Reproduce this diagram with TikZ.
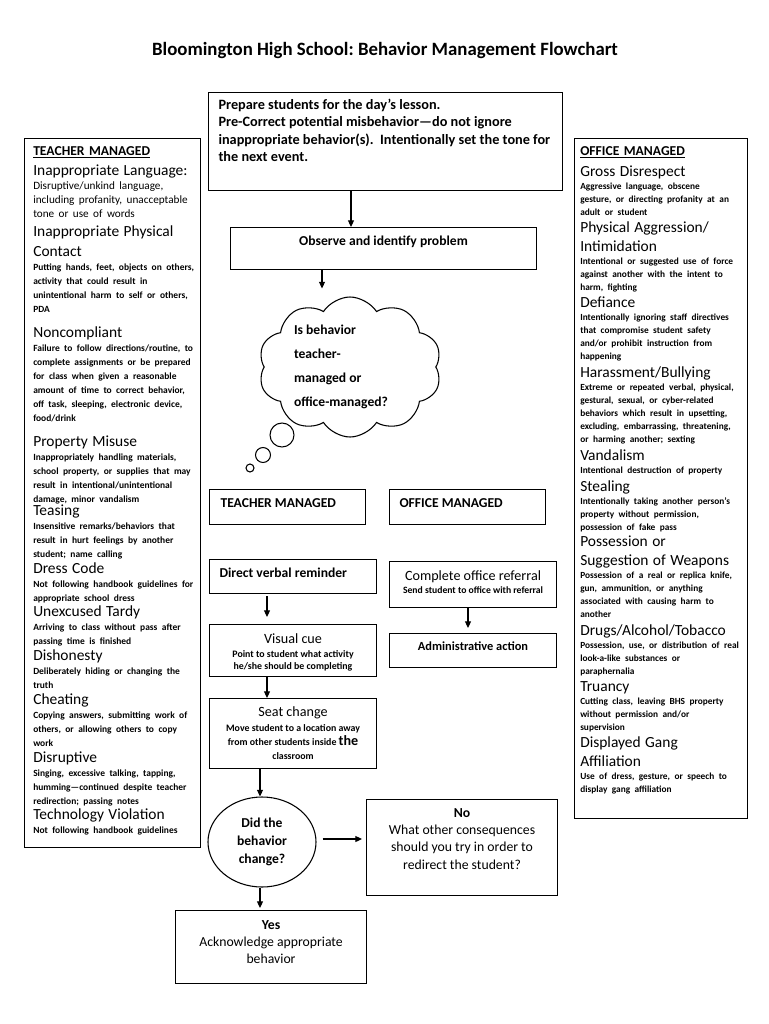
\documentclass[tikz,border=0pt]{standalone}
\usepackage{fontspec}
\setmainfont{Carlito}
\usetikzlibrary{shapes.geometric,shapes.symbols,arrows.meta}
\frenchspacing
\newlength{\pxunit}
\setlength{\pxunit}{0.75pt}
\newcommand{\listtitle}[1]{{\fontsize{10.2}{12}\selectfont\bfseries\raggedright\underline{#1}\par}}
\newcommand{\listhead}[1]{{\fontsize{11.6}{11.8}\selectfont\raggedright #1\par}}
\newcommand{\listdesc}[1]{{\fontsize{7.1}{10.5}\selectfont\bfseries\raggedright #1\par}}
\newcommand{\rlisthead}[1]{{\fontsize{11.6}{12.7}\selectfont\raggedright #1\par}}
\newcommand{\rlistdesc}[1]{{\fontsize{7.0}{9.75}\selectfont\bfseries\raggedright #1\par}}

\begin{document}
\begin{tikzpicture}[x=\pxunit,y=-\pxunit,
  box/.style={draw,line width=0.8pt,inner ysep=0pt,anchor=north west},
  arr/.style={line width=0.8pt,-{Triangle[length=5pt,width=4.5pt]}},
  flowbold/.style={font=\fontsize{10.2}{13}\selectfont\bfseries},
  flowplain/.style={font=\fontsize{10.3}{13}\selectfont},
  bubble/.style={draw,circle,line width=0.8pt,inner sep=0pt},
  panel/.style={draw,line width=0.8pt,anchor=north west,inner sep=0pt},
  listnode/.style={anchor=base west,text width=190\pxunit,align=left,inner sep=0pt}]
\fill[white] (0,0) rectangle (768,1024);
\useasboundingbox (0,0) rectangle (768,1024);

\node[font=\fontsize{14.1}{16}\selectfont\bfseries] (title) at (385,50) {Bloomington High School: Behavior Management Flowchart};

\node[box,font=\fontsize{10.7}{13.2}\selectfont\bfseries,inner xsep=0pt] (prep) at (208,92) {\parbox[c][98\pxunit][t]{354\pxunit}{\raggedright\leftskip=10\pxunit\rule{0pt}{16.5\pxunit}Prepare students for the day’s lesson.\\ Pre-Correct potential misbehavior—do not ignore\\ inappropriate behavior(s).\ \ Intentionally set the tone for\\ the next event.}};
\node[box,flowbold,inner xsep=0pt] (obs) at (230,227) {\parbox[c][42\pxunit][t]{306\pxunit}{\centering\rule{0pt}{17.5\pxunit}Observe and identify problem}};
\node[cloud,draw,line width=0.8pt,cloud puffs=10,cloud puff arc=115,cloud ignores aspect,minimum width=183\pxunit,minimum height=140\pxunit,inner sep=0pt,font=\fontsize{10.2}{18}\selectfont\bfseries] (cloud) at (350,367) {\parbox{112\pxunit}{\raggedright Is behavior\\ teacher-\\ managed or\\ office-managed?}};
\node[bubble,minimum size=24\pxunit] (bubble1) at (282,435) {};
\node[bubble,minimum size=15\pxunit] (bubble2) at (263,455) {};
\node[bubble,minimum size=8\pxunit] (bubble3) at (250,468) {};

\node[box,flowbold,inner xsep=11\pxunit] (tmbox) at (209,489) {\parbox[c][35\pxunit][t]{134\pxunit}{\rule{0pt}{17.5\pxunit}TEACHER MANAGED}};
\node[box,flowbold,inner xsep=10\pxunit] (ombox) at (389,489) {\parbox[c][35\pxunit][t]{136\pxunit}{\rule{0pt}{17.5\pxunit}OFFICE MANAGED}};

\node[box,flowbold,inner xsep=10\pxunit] (verbal) at (209,559) {\parbox[c][34\pxunit][t]{147\pxunit}{\rule{0pt}{17.5\pxunit}Direct verbal reminder}};
\node[box,inner xsep=0pt] (visual) at (209,624) {\parbox[c][52\pxunit][t]{167\pxunit}{\centering{\fontsize{10.6}{13}\selectfont\rule{0pt}{18.5\pxunit}Visual cue\par}\vspace{1.9pt}{\fontsize{7.4}{9}\selectfont\bfseries Point to student what activity\\ he/she should be completing\par}}};
\node[box,inner xsep=0pt] (seat) at (209,698) {\parbox[c][70\pxunit][t]{167\pxunit}{\centering{\fontsize{10.6}{13}\selectfont\rule{0pt}{17.5\pxunit}Seat change\par}\vspace{1.1pt}{\fontsize{7.4}{10.5}\selectfont\bfseries Move student to a location away\\ from other students inside {\fontsize{10.6}{10.5}\selectfont the}\\ classroom\par}}};

\node[box,inner xsep=0pt] (referral) at (389,561) {\parbox[c][46\pxunit][t]{167\pxunit}{\centering{\fontsize{10.6}{13}\selectfont\rule{0pt}{18.5\pxunit}Complete office referral\par}{\fontsize{7.25}{10.1}\selectfont\bfseries Send student to office with referral\par}}};
\node[box,inner xsep=0pt,font=\fontsize{9.3}{12}\selectfont\bfseries] (admin) at (389,633) {\parbox[c][34\pxunit][t]{167\pxunit}{\centering\rule{0pt}{17\pxunit}Administrative action}};

\node[ellipse,draw,line width=0.8pt,minimum width=108\pxunit,minimum height=90\pxunit,inner sep=0pt,align=center,font=\fontsize{10.2}{13.5}\selectfont\bfseries] (change) at (262,842) {Did the\\ behavior\\ change?};
\node[box,flowplain,inner xsep=0pt] (nobox) at (366,799) {\parbox[c][96\pxunit][t]{191\pxunit}{\centering\rule{0pt}{17.5\pxunit}\textbf{No}\\ What other consequences\\ should you try in order to\\ redirect the student?}};
\node[box,flowplain,inner xsep=0pt] (yesbox) at (175,910) {\parbox[c][73\pxunit][t]{191\pxunit}{\centering\rule{0pt}{18.5\pxunit}\textbf{Yes}\\ Acknowledge appropriate\\ behavior}};

\draw[arr] (351,0 |- prep.south) -- (351,0 |- obs.north);
\draw[arr,shorten >=8\pxunit] (322,0 |- obs.south) -- (322,0 |- cloud.north);
\draw[arr,shorten <=2\pxunit,shorten >=7\pxunit] (267,0 |- verbal.south) -- (267,0 |- visual.north);
\draw[arr] (267,0 |- visual.south) -- (267,0 |- seat.north);
\draw[arr,shorten >=5\pxunit] (468,0 |- referral.south) -- (468,0 |- admin.north);
\draw[arr] (260,0 |- seat.south) -- (260,0 |- change.north);
\coordinate (nostart) at ([xshift=6\pxunit,yshift=3\pxunit]change.east);
\draw[arr] (nostart) -- ([xshift=-4\pxunit]nostart -| nobox.west);
\draw[arr,shorten >=2\pxunit] (260,0 |- change.south) -- (260,0 |- yesbox.north);

\node[panel,minimum width=176\pxunit,minimum height=709\pxunit] (tpanel) at (24,138) {};
\node[panel,minimum width=173\pxunit,minimum height=680\pxunit] (opanel) at (574,138) {};

\node[listnode] (tlist) at (33,155.5) {%
\listtitle{TEACHER MANAGED}\vspace{3.3pt}
\listhead{Inappropriate Language:}
{\fontsize{8.4}{10.5}\selectfont\raggedright Disruptive/unkind language,\\ including profanity, unacceptable\\ tone or use of words\par}\vspace{2.2pt}
\listhead{Inappropriate Physical\\[3.2pt]Contact}
\listdesc{Putting hands, feet, objects on others,\\ activity that could result in\\ unintentional harm to self or others,\\ PDA}\vspace{7pt}
\listhead{Noncompliant}
\listdesc{Failure to follow directions/routine, to\\ complete assignments or be prepared\\ for class when given a reasonable\\ amount of time to correct behavior,\\ off task, sleeping, electronic device,\\ food/drink}\vspace{7pt}
\listhead{Property Misuse}
\listdesc{Inappropriately handling materials,\\ school property, or supplies that may\\ result in intentional/unintentional\\ damage, minor vandalism}\vspace{-2pt}
\listhead{Teasing}
\listdesc{Insensitive remarks/behaviors that\\ result in hurt feelings by another\\ student; name calling}
\listhead{Dress Code}
\listdesc{Not following handbook guidelines for\\ appropriate school dress}
\listhead{Unexcused Tardy}
\listdesc{Arriving to class without pass after\\ passing time is finished}
\listhead{Dishonesty}
\listdesc{Deliberately hiding or changing the\\ truth}
\listhead{Cheating}
\listdesc{Copying answers, submitting work of\\ others, or allowing others to copy\\ work}
\listhead{Disruptive}
\listdesc{Singing, excessive talking, tapping,\\ humming—continued despite teacher\\ redirection; passing notes}
\listhead{Technology Violation}
\listdesc{Not following handbook guidelines}};

\node[listnode] (olist) at (580,155.5) {%
\listtitle{OFFICE MANAGED}\vspace{3pt}
\rlisthead{Gross Disrespect}
\rlistdesc{Aggressive language, obscene\\ gesture, or directing profanity at an\\ adult or student}
\rlisthead{Physical Aggression/\\[1.55pt]Intimidation}
\rlistdesc{Intentional or suggested use of force\\ against another with the intent to\\ harm, fighting}
\rlisthead{Defiance}
\rlistdesc{Intentionally ignoring staff directives\\ that compromise student safety\\ and/or prohibit instruction from\\ happening}\vspace{1pt}
\rlisthead{Harassment/Bullying}
\rlistdesc{Extreme or repeated verbal, physical,\\ gestural, sexual, or cyber-related\\ behaviors which result in upsetting,\\ excluding, embarrassing, threatening,\\ or harming another; sexting}\vspace{1pt}
\rlisthead{Vandalism}
\rlistdesc{Intentional destruction of property}\vspace{0.5pt}
\rlisthead{Stealing}
\rlistdesc{Intentionally taking another person’s\\ property without permission,\\ possession of fake pass}\vspace{-1pt}
\rlisthead{Possession or\\[1.55pt]Suggestion of Weapons}
\rlistdesc{Possession of a real or replica knife,\\ gun, ammunition, or anything\\ associated with causing harm to\\ another}\vspace{1pt}
\rlisthead{Drugs/Alcohol/Tobacco}
\rlistdesc{Possession, use, or distribution of real\\ look-a-like substances or\\ paraphernalia}
\rlisthead{Truancy}
\rlistdesc{Cutting class, leaving BHS property\\ without permission and/or\\ supervision}
\rlisthead{Displayed Gang\\[1.55pt]Affiliation}
\rlistdesc{Use of dress, gesture, or speech to\\ display gang affiliation}};
\end{tikzpicture}
\end{document}
